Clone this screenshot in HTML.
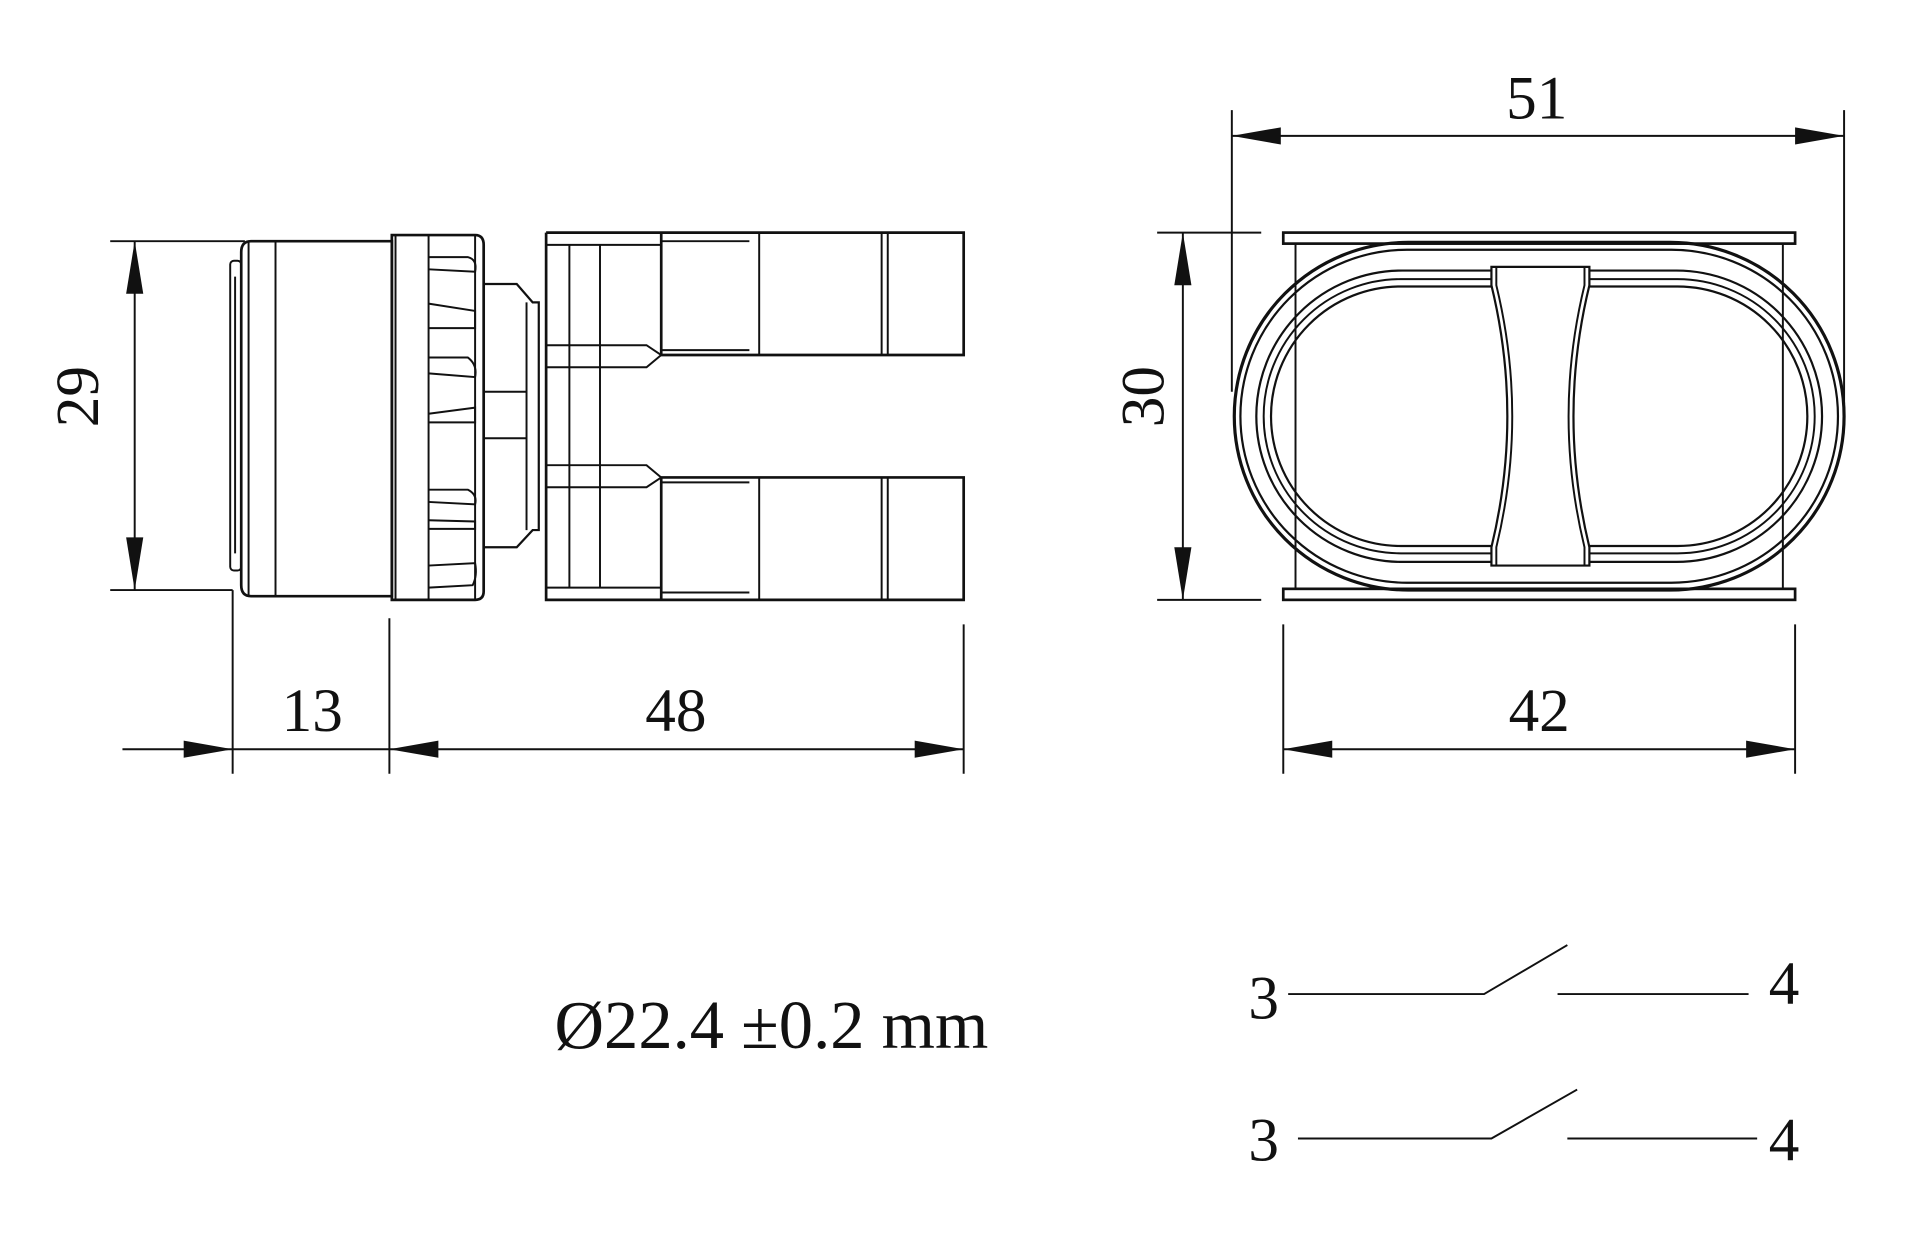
<!DOCTYPE html>
<html><head><meta charset="utf-8"><style>
html,body{margin:0;padding:0;background:#fff;}
svg{display:block;}
text{font-family:"Liberation Serif",serif;fill:#111;}
</style></head><body>
<svg width="1920" height="1234" viewBox="0 0 1568 1008" preserveAspectRatio="none" xmlns="http://www.w3.org/2000/svg">
<g stroke="#111" fill="none" stroke-width="1.6">
<!-- LEFT VIEW dims -->
<line x1="90" y1="197" x2="200" y2="197"/>
<line x1="90" y1="482" x2="190" y2="482"/>
<line x1="110" y1="197" x2="110" y2="482"/>
<line x1="190" y1="482" x2="190" y2="632"/>
<line x1="318" y1="505" x2="318" y2="632"/>
<line x1="787" y1="510" x2="787" y2="632"/>
<line x1="100" y1="612" x2="787" y2="612"/>
<!-- front button -->
<path d="M205 197 H320 V487 H205 Q197 487 197 478 V206 Q197 197 205 197 Z" stroke-width="2.2"/>
<line x1="203" y1="197" x2="203" y2="487"/>
<line x1="225" y1="197" x2="225" y2="487"/>
<rect x="188" y="213" width="9" height="253" rx="3"/>
<line x1="192" y1="226" x2="192" y2="452"/>
<!-- ring -->
<path d="M320 192 H388 Q395 192 395 200 V483 Q395 490 388 490 H320 Z" stroke-width="2.2"/>
<line x1="323" y1="192" x2="323" y2="490"/>
<line x1="350" y1="192" x2="350" y2="490"/>
<line x1="388" y1="192" x2="388" y2="490"/>
<path d="M350 210 H382 Q390 212 388 222 L350 220 M350 248 L388 254 V268 H350"/>
<path d="M350 292 L382 292 Q390 298 388 308 L350 305 M350 338 L388 333 V345 H350"/>
<path d="M350 400 H382 Q390 404 388 412 L350 410 M350 425 L388 426 V432 H350"/>
<path d="M350 462 L388 460 Q390 470 386 478 L350 480"/>
<!-- neck -->
<path d="M395 232 H422 L435 247 H440 V433 H435 L422 447 H395" stroke-width="1.8"/>
<line x1="430" y1="247" x2="430" y2="433"/>
<line x1="395" y1="320" x2="430" y2="320"/>
<line x1="395" y1="358" x2="430" y2="358"/>
<!-- contact block -->
<path d="M446 190 H540 V290 H787 V190 H540 M446 190 V490 H540 V390 H787 V490 H540" stroke-width="2.2"/>
<line x1="446" y1="200" x2="540" y2="200"/>
<line x1="446" y1="480" x2="540" y2="480"/>
<line x1="465" y1="200" x2="465" y2="480"/>
<line x1="490" y1="200" x2="490" y2="480"/>
<path d="M446 282 H528 L540 290 M446 300 H528 L540 290"/>
<path d="M446 380 H528 L540 390 M446 398 H528 L540 390"/>
<line x1="540" y1="197" x2="612" y2="197"/>
<line x1="540" y1="286" x2="612" y2="286"/>
<line x1="540" y1="394" x2="612" y2="394"/>
<line x1="540" y1="484" x2="612" y2="484"/>
<line x1="620" y1="190" x2="620" y2="290"/>
<line x1="720" y1="190" x2="720" y2="290"/>
<line x1="725" y1="190" x2="725" y2="290"/>
<line x1="620" y1="390" x2="620" y2="490"/>
<line x1="720" y1="390" x2="720" y2="490"/>
<line x1="725" y1="390" x2="725" y2="490"/>
<!-- RIGHT VIEW dims -->
<line x1="1006" y1="90" x2="1006" y2="320"/>
<line x1="1506" y1="90" x2="1506" y2="330"/>
<line x1="1006" y1="111" x2="1506" y2="111"/>
<line x1="945" y1="190" x2="1030" y2="190"/>
<line x1="945" y1="490" x2="1030" y2="490"/>
<line x1="966" y1="190" x2="966" y2="490"/>
<line x1="1048" y1="510" x2="1048" y2="632"/>
<line x1="1466" y1="510" x2="1466" y2="632"/>
<line x1="1048" y1="612" x2="1466" y2="612"/>
<!-- body -->
<rect x="1048" y="190" width="418" height="9" stroke-width="2.2"/>
<rect x="1048" y="481" width="418" height="9" stroke-width="2.2"/>
<line x1="1058" y1="199" x2="1058" y2="481"/>
<line x1="1456" y1="199" x2="1456" y2="481"/>
<rect x="1008" y="198" width="498" height="284" rx="142" ry="142" stroke-width="2.6"/>
<rect x="1013" y="204" width="488" height="272" rx="136" ry="136" stroke-width="1.8"/>
<rect x="1026" y="221" width="462" height="238" rx="119" ry="119" stroke-width="1.8"/>
<rect x="1032" y="228" width="450" height="224" rx="112" ry="112"/>
<rect x="1038" y="234" width="438" height="212" rx="106" ry="106" stroke-width="1.8"/>
<path d="M1218 218 H1298 V233 Q1272 340 1298 447 V462 H1218 V447 Q1244 340 1218 233 Z" fill="#fff" stroke-width="1.8"/>
<path d="M1222 218 V233 Q1248 340 1222 447 V462 M1294 218 V233 Q1268 340 1294 447 V462"/>
<!-- switch symbols -->
<path d="M1052 812 H1212 L1280 772 M1272 812 H1428"/>
<path d="M1060 930 H1218 L1288 890 M1280 930 H1435"/>
</g>
<g fill="#111">
<path d="M110 197 L103 240 L117 240 Z"/>
<path d="M110 482 L103 439 L117 439 Z"/>
<path d="M190 612 L150 605 L150 619 Z"/>
<path d="M318 612 L358 605 L358 619 Z"/>
<path d="M787 612 L747 605 L747 619 Z"/>
<path d="M1006 111 L1046 104 L1046 118 Z"/>
<path d="M1506 111 L1466 104 L1466 118 Z"/>
<path d="M966 190 L959 233 L973 233 Z"/>
<path d="M966 490 L959 447 L973 447 Z"/>
<path d="M1048 612 L1088 605 L1088 619 Z"/>
<path d="M1466 612 L1426 605 L1426 619 Z"/>
</g>
<g font-size="50">
<text x="96" y="340" text-anchor="middle" transform="rotate(-90 80 340)">29</text>
<text x="255" y="597" text-anchor="middle">13</text>
<text x="552" y="597" text-anchor="middle">48</text>
<text x="1255" y="97" text-anchor="middle">51</text>
<text x="966" y="340" text-anchor="middle" transform="rotate(-90 950 340)">30</text>
<text x="1257" y="597" text-anchor="middle">42</text>
<text x="630" y="856" text-anchor="middle" font-size="56">Ø22.4 ±0.2 mm</text>
<text x="1032" y="832" text-anchor="middle">3</text>
<text x="1457" y="820" text-anchor="middle">4</text>
<text x="1032" y="948" text-anchor="middle">3</text>
<text x="1457" y="948" text-anchor="middle">4</text>
</g>
</svg>
</body></html>
